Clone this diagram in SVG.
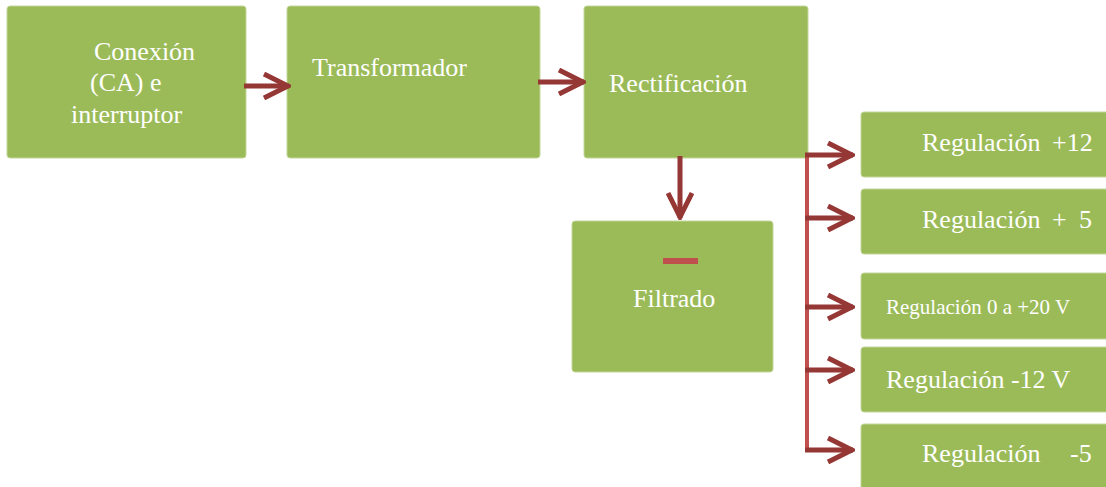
<svg xmlns="http://www.w3.org/2000/svg" width="1106" height="487" viewBox="0 0 1106 487">
<defs>
<style>
.box{fill:#9BBB59;stroke:#C3D69B;stroke-width:1}
.t{font-family:"Liberation Serif","Times New Roman",serif;font-size:26px;fill:#FFFFFF}
.s{font-size:21px}
.arr{stroke:#953735;stroke-width:5;fill:none}
.bus{stroke:#C0504D;stroke-width:4;fill:none}
</style>
<marker id="chev" markerUnits="userSpaceOnUse" viewBox="0 0 30 28" refX="28" refY="14" markerWidth="30" markerHeight="28" orient="auto">
<path d="M3,2 L27,14 L3,26" stroke="#953735" stroke-width="5" fill="none" stroke-linejoin="miter"/>
</marker>
</defs>
<rect width="1106" height="487" fill="#FFFFFF"/>
<g id="n1"><rect class="box" x="7" y="6" width="239" height="152" rx="3"/>
<text class="t"><tspan x="94" y="60">Conexión</tspan><tspan x="90" y="91">(CA) e</tspan><tspan x="71" y="123">interruptor</tspan></text></g>
<g id="n2"><rect class="box" x="287" y="6" width="253" height="152" rx="3"/>
<text class="t" x="312" y="76">Transformador</text></g>
<g id="n3"><rect class="box" x="584" y="6" width="224" height="152" rx="3"/>
<text class="t" x="609" y="92">Rectificación</text></g>
<g id="n4"><rect class="box" x="572" y="221" width="201" height="151" rx="3"/>
<rect x="663" y="258" width="35" height="6" fill="#C0504D"/>
<text class="t" x="633" y="307">Filtrado</text></g>
<g id="r1"><rect class="box" x="861" y="112" width="250" height="65" rx="3"/>
<text class="t" y="151"><tspan x="922">Regulación</tspan><tspan x="1052">+12</tspan></text></g>
<g id="r2"><rect class="box" x="861" y="189" width="250" height="65" rx="3"/>
<text class="t" y="228"><tspan x="922">Regulación</tspan><tspan x="1052">+</tspan><tspan x="1079">5</tspan></text></g>
<g id="r3"><rect class="box" x="861" y="273" width="250" height="66" rx="3"/>
<text class="t s" x="886" y="314">Regulación 0 a +20 V</text></g>
<g id="r4"><rect class="box" x="861" y="347" width="250" height="65" rx="3"/>
<text class="t" x="886" y="388">Regulación -12 V</text></g>
<g id="r5"><rect class="box" x="861" y="424" width="250" height="70" rx="3"/>
<text class="t" y="462"><tspan x="922">Regulación</tspan><tspan x="1070">-5</tspan></text></g>
<g id="connectors">
<path class="arr" d="M244,86 H289" marker-end="url(#chev)"/>
<path class="arr" d="M538,82 H584" marker-end="url(#chev)"/>
<path class="arr" d="M680,156 V218" marker-end="url(#chev)"/>
<path class="bus" d="M807,155 V452"/>
<path class="arr" d="M805,155 H853" marker-end="url(#chev)"/>
<path class="arr" d="M805,218 H853" marker-end="url(#chev)"/>
<path class="arr" d="M805,307 H853" marker-end="url(#chev)"/>
<path class="arr" d="M805,370 H853" marker-end="url(#chev)"/>
<path class="arr" d="M805,450 H853" marker-end="url(#chev)"/>
</g>
</svg>
